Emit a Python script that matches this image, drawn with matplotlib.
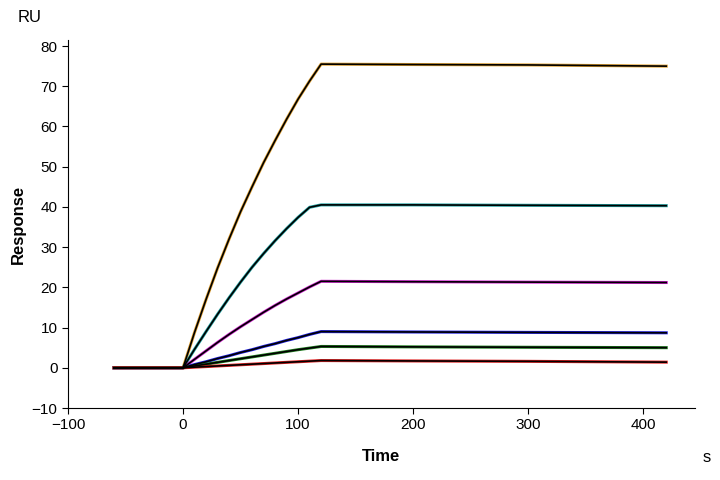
import matplotlib
matplotlib.use("Agg")
import matplotlib.pyplot as plt

plt.rcParams["font.family"] = "Liberation Sans"

t = [-60, 0, 10, 20, 30, 40, 50, 60, 70, 80, 90, 100, 110, 120, 200, 300, 420]
series = {
    "orange": [0, 0, 8.8, 17, 24.8, 32, 38.8, 45, 51, 56.5, 61.8, 66.8, 71.3, 75.5, 75.4, 75.3, 75.0],
    "teal":   [0, 0, 4.6, 9, 13.3, 17.4, 21.3, 25, 28.4, 31.6, 34.6, 37.4, 39.9, 40.5, 40.5, 40.4, 40.3],
    "magenta":[0, 0, 2.1, 4.2, 6.3, 8.3, 10.2, 12, 13.8, 15.5, 17.1, 18.6, 20.1, 21.5, 21.4, 21.3, 21.2],
    "blue":   [0, 0, 0.8, 1.5, 2.3, 3, 3.8, 4.5, 5.3, 6, 6.8, 7.5, 8.3, 9, 8.9, 8.8, 8.7],
    "green":  [0, 0, 0.45, 0.9, 1.35, 1.8, 2.25, 2.7, 3.15, 3.6, 4.05, 4.5, 4.9, 5.3, 5.2, 5.1, 5.0],
    "red":    [0, 0, 0.15, 0.3, 0.45, 0.6, 0.75, 0.9, 1.05, 1.2, 1.35, 1.5, 1.65, 1.8, 1.7, 1.6, 1.4],
}
colors = {"orange": "#e0a030", "teal": "#20a0a0", "magenta": "#d020d0",
          "blue": "#2020e0", "green": "#208020", "red": "#e02020"}

fig = plt.figure(figsize=(7.2, 4.8), dpi=100)
ax = fig.add_axes([68/720, 72/480, (695-68)/720, (408-40)/480])
for k, v in series.items():
    ax.plot(t, v, color=colors[k], lw=2.2)
for k, v in series.items():
    ax.plot(t, v, color="black", lw=1.2)

ax.set_xlim(-100, 445)
ax.set_ylim(-10, 81.5)
ax.set_xticks([-100, 0, 100, 200, 300, 400])
ax.set_yticks(range(-10, 81, 10))
ax.tick_params(labelsize=11, direction="out", length=4)
for s in ["top", "right"]:
    ax.spines[s].set_visible(False)
ax.set_xlabel("Time", fontsize=12, fontweight="bold", labelpad=12)
ax.set_ylabel("Response", fontsize=12, fontweight="bold")
fig.text(30/720, 1 - 18/480, "RU", fontsize=12, ha="center", va="center")
fig.text(707/720, 1 - 458/480, "s", fontsize=12, ha="center", va="center")
fig.savefig("out.png", dpi=100)
